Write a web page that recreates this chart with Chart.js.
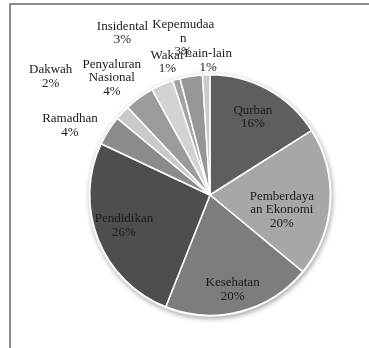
<!DOCTYPE html>
<html>
<head>
<meta charset="utf-8">
<script src="https://cdn.jsdelivr.net/npm/chart.js@4.4.1/dist/chart.umd.min.js"></script>
<style>
  html, body { margin: 0; padding: 0; background: #fff; }
  body { width: 369px; height: 348px; position: relative; overflow: hidden; }
  .frame {
    position: absolute; left: 9px; top: 3px; right: 0; bottom: 0;
    border-top: 2px solid #8c8c8c; border-left: 2px solid #8c8c8c;
  }
  #pie { position: absolute; left: 0; top: 0; }
</style>
</head>
<body>
<div class="frame"></div>
<canvas id="pie" width="369" height="348"></canvas>
<script>
// data (percent of total)
const categories = ["Qurban", "Pemberdayaan Ekonomi", "Kesehatan", "Pendidikan", "Ramadhan", "Dakwah",
  "Penyaluran Nasional", "Insidental", "Wakaf", "Kepemudaan", "Lain-lain"];
const shares = [16, 20, 20, 26, 4, 2, 4, 3, 1, 3, 1];
// label text as wrapped in the original
const labelLines = [["Qurban"], ["Pemberdaya", "an Ekonomi"], ["Kesehatan"], ["Pendidikan"], ["Ramadhan"],
  ["Dakwah"], ["Penyaluran", "Nasional"], ["Insidental"], ["Wakaf"], ["Kepemudaa", "n"], ["Lain-lain"]];

const sliceColors = ["#5e5e5e", "#a7a7a7", "#7d7d7d", "#4e4e4e", "#8b8b8b", "#c9c9c9",
  "#9b9b9b", "#d3d3d3", "#a3a3a3", "#979797", "#cacaca"];

// where each label sits: radius factor + small angle shift (deg)
const labelPlace = [[0.74, 0], [0.61, 8], [0.81, 1], [0.76, 2], [1.30, -6], [1.65, -6.6],
  [1.27, -4], [1.53, -5], [1.16, -1.6], [1.32, -0.7], [1.12, 1]];

const pieShadow = {
  id: "pieShadow",
  beforeDatasetsDraw(chart) {
    const arc = chart.getDatasetMeta(0).data[0];
    if (!arc) return;
    const ctx = chart.ctx;
    ctx.save();
    ctx.shadowColor = "rgba(0,0,0,0.35)";
    ctx.shadowBlur = 5;
    ctx.shadowOffsetX = 1;
    ctx.shadowOffsetY = 2;
    ctx.fillStyle = "#f4f4f4";
    ctx.beginPath();
    ctx.arc(arc.x, arc.y, arc.outerRadius + 1.5, 0, Math.PI * 2);
    ctx.fill();
    ctx.restore();
  }
};

const sliceLabels = {
  id: "sliceLabels",
  afterDatasetsDraw(chart) {
    const ctx = chart.ctx;
    const meta = chart.getDatasetMeta(0);
    ctx.save();
    ctx.font = "13px 'Liberation Serif', serif";
    ctx.fillStyle = "#1a1a1a";
    ctx.textAlign = "center";
    ctx.textBaseline = "middle";
    meta.data.forEach((arc, i) => {
      const p = labelPlace[i];
      const mid = (arc.startAngle + arc.endAngle) / 2 + p[1] * Math.PI / 180;
      const cx = arc.x + Math.cos(mid) * arc.outerRadius * p[0];
      const cy = arc.y + Math.sin(mid) * arc.outerRadius * p[0];
      const lines = labelLines[i].concat([shares[i] + "%"]);
      const lh = 13.5;
      const top = cy - (lines.length - 1) * lh / 2;
      lines.forEach((t, k) => ctx.fillText(t, cx, top + k * lh));
    });
    ctx.restore();
  }
};

new Chart(document.getElementById("pie"), {
  type: "pie",
  data: {
    labels: categories,
    datasets: [{
      data: shares,
      backgroundColor: sliceColors,
      borderColor: "#ffffff",
      borderWidth: 1.5
    }]
  },
  options: {
    responsive: false,
    animation: false,
    layout: { padding: { left: 89, right: 38, top: 74, bottom: 32 } },
    plugins: { legend: { display: false }, tooltip: { enabled: false } }
  },
  plugins: [pieShadow, sliceLabels]
});
</script>
</body>
</html>
